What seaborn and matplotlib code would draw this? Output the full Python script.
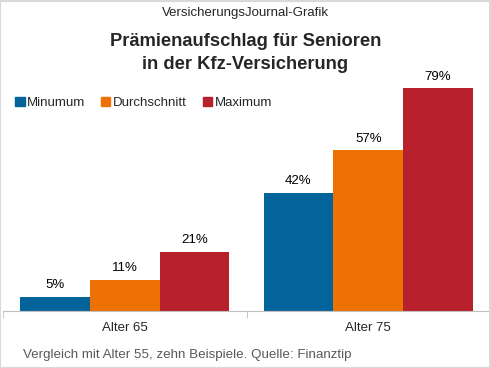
import pandas as pd
import matplotlib.pyplot as plt
import seaborn as sns
from matplotlib.patches import Patch

# data
groups = ['Alter 65', 'Alter 75']
series = ['Minumum', 'Durchschnitt', 'Maximum']
minimum = [5, 42]
durchschnitt = [11, 57]
maximum = [21, 79]
colors = ['#03639B', '#EE7203', '#B8202B']

rows = []
for name, vals in zip(series, [minimum, durchschnitt, maximum]):
    for g, v in zip(groups, vals):
        rows.append({'Gruppe': g, 'Reihe': name, 'Wert': v})
df = pd.DataFrame(rows)

sns.set_style('white')
plt.rcParams['font.family'] = ['Liberation Sans', 'DejaVu Sans']

fig = plt.figure(figsize=(4.91, 3.68), dpi=100)
ax = fig.add_axes([3 / 491, 57 / 368, 487 / 491, 251 / 368])

sns.barplot(data=df, x='Gruppe', y='Wert', hue='Reihe', palette=colors,
            width=0.86, saturation=1, linewidth=0, ax=ax, legend=False)

for c in ax.containers:
    ax.bar_label(c, fmt='%d%%', padding=4, fontsize=9.5, color='black')

ax.set_ylim(0, 89)
ax.set_xlim(-0.5, 1.5)
ax.set_xlabel('')
ax.set_ylabel('')
ax.set_yticks([])
for s in ['top', 'left', 'right']:
    ax.spines[s].set_visible(False)
ax.spines['bottom'].set_color('#BFBFBF')
ax.set_xticks([-0.5, 0.5, 1.5], minor=True)
ax.tick_params(axis='x', which='minor', length=5, color='#BFBFBF', direction='out', bottom=True)
ax.tick_params(axis='x', which='major', length=0, labelsize=9.5, pad=8)

# legend
handles = [Patch(color=c, label=s) for c, s in zip(colors, series)]
fig.legend(handles=handles, loc='center left', bbox_to_anchor=(10 / 491, 1 - 103 / 368),
           ncol=3, frameon=False, fontsize=9.5, handlelength=0.7, handleheight=0.7,
           handletextpad=0.2, columnspacing=1.2, borderaxespad=0)

fig.text(0.5, 1 - 13 / 368, 'VersicherungsJournal-Grafik', ha='center', va='center', fontsize=9.5)
fig.text(0.5, 1 - 53 / 368, 'Prämienaufschlag für Senioren\nin der Kfz-Versicherung',
         ha='center', va='center', fontsize=13.2, fontweight='bold', linespacing=1.4)
fig.text(23 / 491, 1 - 355 / 368, 'Vergleich mit Alter 55, zehn Beispiele. Quelle: Finanztip',
         ha='left', va='center', fontsize=9.6, color='#595959')

# outer border
fig.patches.append(plt.Rectangle((0.001, 0.001), 0.997, 0.997, transform=fig.transFigure,
                                 fill=False, edgecolor='#D9D9D9', linewidth=1.5))

fig.savefig('out.png', dpi=100)
